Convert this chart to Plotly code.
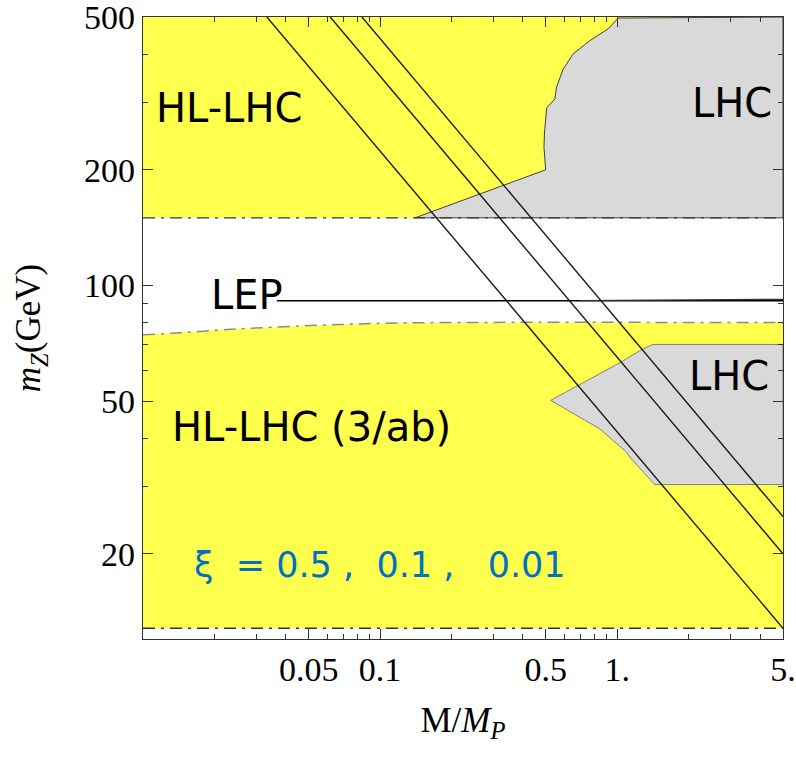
import numpy as np
import plotly.graph_objects as go

# ---------------- data ----------------
X_MIN, X_MAX = 0.01, 5.0
Y_MIN, Y_MAX = 12.0, 500.0

# horizontal boundaries (GeV)
upper_band = 150.0
bottom_line = 12.8
lower_curve_x = [0.01, 0.0144, 0.0257, 0.0678, 0.13, 5.0]
lower_curve_y = [74.4, 75.3, 77.1, 79.1, 79.9, 80.0]

# LHC excluded region (upper)
lhc_up_x = [0.1405, 0.499, 0.491, 0.493, 0.504, 0.529, 0.546, 0.555, 0.592, 0.652, 0.767, 0.916, 1.009, 5.0, 5.0, 0.1405]
lhc_up_y = [150, 200, 229, 248, 290, 300, 306, 329, 366, 401, 434, 466, 497, 500, 150, 150]

# LHC excluded region (lower)
lhc_lo_x = [0.524, 1.026, 1.266, 1.417, 5.0, 5.0, 1.44, 1.13, 1.095, 0.845, 0.524]
lhc_lo_y = [50.2, 62.9, 68.0, 70.2, 70.2, 30.3, 30.3, 35.7, 36.8, 42.3, 50.2]

# xi lines (0.5, 0.1, 0.01): endpoints
xi_labels = ["0.5", "0.1", "0.01"]
xi_x = [[0.0333, 5.0], [0.0616, 5.0], [0.0838, 5.0]]
xi_y = [[500, 12.8], [500, 20.0], [500, 25.0]]

# LEP line
lep_x = [0.0367, 5.0]
lep_y = [91.2, 91.2]
lep2_x = [0.7, 5.0]
lep2_y = [91.3, 92.0]

x_tickvals = [0.05, 0.1, 0.5, 1, 5]
x_ticktext = ["0.05", "0.1", "0.5", "1.", "5."]
x_minor = [0.02, 0.03, 0.04, 0.06, 0.07, 0.08, 0.09, 0.2, 0.3, 0.4, 0.6, 0.7, 0.8, 0.9, 2, 3, 4]
y_tickvals = [20, 50, 100, 200, 500]
y_ticktext = ["20", "50", "100", "200", "500"]
y_minor = [30, 40, 60, 70, 80, 90, 300, 400]

YELLOW = "#FFFF4D"
GRAY = "#D9D9D9"

fig = go.Figure()

# yellow regions
fig.add_trace(go.Scatter(x=[X_MIN, X_MAX, X_MAX, X_MIN, X_MIN],
                         y=[upper_band, upper_band, Y_MAX, Y_MAX, upper_band],
                         fill="toself", fillcolor=YELLOW, line=dict(width=0),
                         mode="lines", hoverinfo="skip", showlegend=False))
fig.add_trace(go.Scatter(x=lower_curve_x + [X_MAX, X_MIN, X_MIN],
                         y=lower_curve_y + [bottom_line, bottom_line, lower_curve_y[0]],
                         fill="toself", fillcolor=YELLOW, line=dict(width=0),
                         mode="lines", hoverinfo="skip", showlegend=False))
# gray LHC regions
fig.add_trace(go.Scatter(x=lhc_up_x, y=lhc_up_y, fill="toself", fillcolor=GRAY,
                         line=dict(color="#404040", width=1), mode="lines",
                         hoverinfo="skip", showlegend=False))
fig.add_trace(go.Scatter(x=lhc_lo_x, y=lhc_lo_y, fill="toself", fillcolor=GRAY,
                         line=dict(color="#808080", width=1), mode="lines",
                         hoverinfo="skip", showlegend=False))

# dash-dot boundaries
dd = "12px,6px,3px,6px"
fig.add_trace(go.Scatter(x=[X_MIN, X_MAX], y=[upper_band, upper_band], mode="lines",
                         line=dict(color="#333333", width=1.3, dash=dd),
                         hoverinfo="skip", showlegend=False))
fig.add_trace(go.Scatter(x=lower_curve_x, y=lower_curve_y, mode="lines",
                         line=dict(color="#8c8c8c", width=1.5, dash=dd, shape="spline"),
                         hoverinfo="skip", showlegend=False))
fig.add_trace(go.Scatter(x=[X_MIN, X_MAX], y=[bottom_line, bottom_line], mode="lines",
                         line=dict(color="#333333", width=1.3, dash=dd),
                         hoverinfo="skip", showlegend=False))

# LEP line
fig.add_trace(go.Scatter(x=lep_x, y=lep_y, mode="lines", line=dict(color="black", width=1.6),
                         hoverinfo="skip", showlegend=False))
fig.add_trace(go.Scatter(x=lep2_x, y=lep2_y, mode="lines", line=dict(color="#333333", width=1.2),
                         hoverinfo="skip", showlegend=False))

# xi lines
for xs, ys, lab in zip(xi_x, xi_y, xi_labels):
    fig.add_trace(go.Scatter(x=xs, y=ys, mode="lines", line=dict(color="#1a1a1a", width=1.4),
                             name=lab, hoverinfo="skip", showlegend=False))

sans = "DejaVu Sans"
def ann(text, x, y, size=40, color="black"):
    fig.add_annotation(text=text, x=np.log10(x), y=np.log10(y), xref="x", yref="y",
                       showarrow=False, xanchor="center", yanchor="middle",
                       font=dict(family=sans, size=size, color=color))

ann("HL-LHC", 0.0231, 289)
ann("LHC", 3.06, 298)
ann("LEP", 0.0275, 94.3)
ann("LHC", 2.95, 58.0)
ann("HL-LHC (3/ab)", 0.0513, 42.8)
ann("\u03be  = 0.5 ,  0.1 ,   0.01", 0.1, 18.7, size=35, color="#0070C0")

serif = "Liberation Serif"
axis_common = dict(type="log", showgrid=False, zeroline=False, showline=True,
                   linecolor="#333333", linewidth=1.2, mirror="allticks",
                   ticks="inside", ticklen=10, tickwidth=1, tickcolor="#333333",
                   automargin=False, ticklabeloverflow="allow",
                   tickfont=dict(family=serif, size=34, color="black"))

fig.update_layout(
    width=796, height=761, autosize=False,
    margin=dict(l=142.5, r=12.7, t=16.7, b=122),
    paper_bgcolor="white", plot_bgcolor="white",
    xaxis=dict(**axis_common, range=[np.log10(X_MIN), np.log10(X_MAX) + 1e-4],
               tickvals=x_tickvals, ticktext=x_ticktext,
               minor=dict(tickmode="array", tickvals=x_minor, ticks="inside",
                          ticklen=5, tickcolor="#333333"),
               title=dict(text="M/<i>M</i><sub><i>P</i></sub>",
                          font=dict(family=serif, size=35, color="black"), standoff=20)),
    yaxis=dict(**axis_common, range=[np.log10(Y_MIN), np.log10(Y_MAX) + 1e-4],
               tickvals=y_tickvals, ticktext=y_ticktext,
               minor=dict(tickmode="array", tickvals=y_minor, ticks="inside",
                          ticklen=5, tickcolor="#333333"),
               title=dict(text="<i>m</i><sub><i>Z</i></sub>(GeV)",
                          font=dict(family=serif, size=35, color="black"), standoff=32)),
)

fig.write_html("out.html")
